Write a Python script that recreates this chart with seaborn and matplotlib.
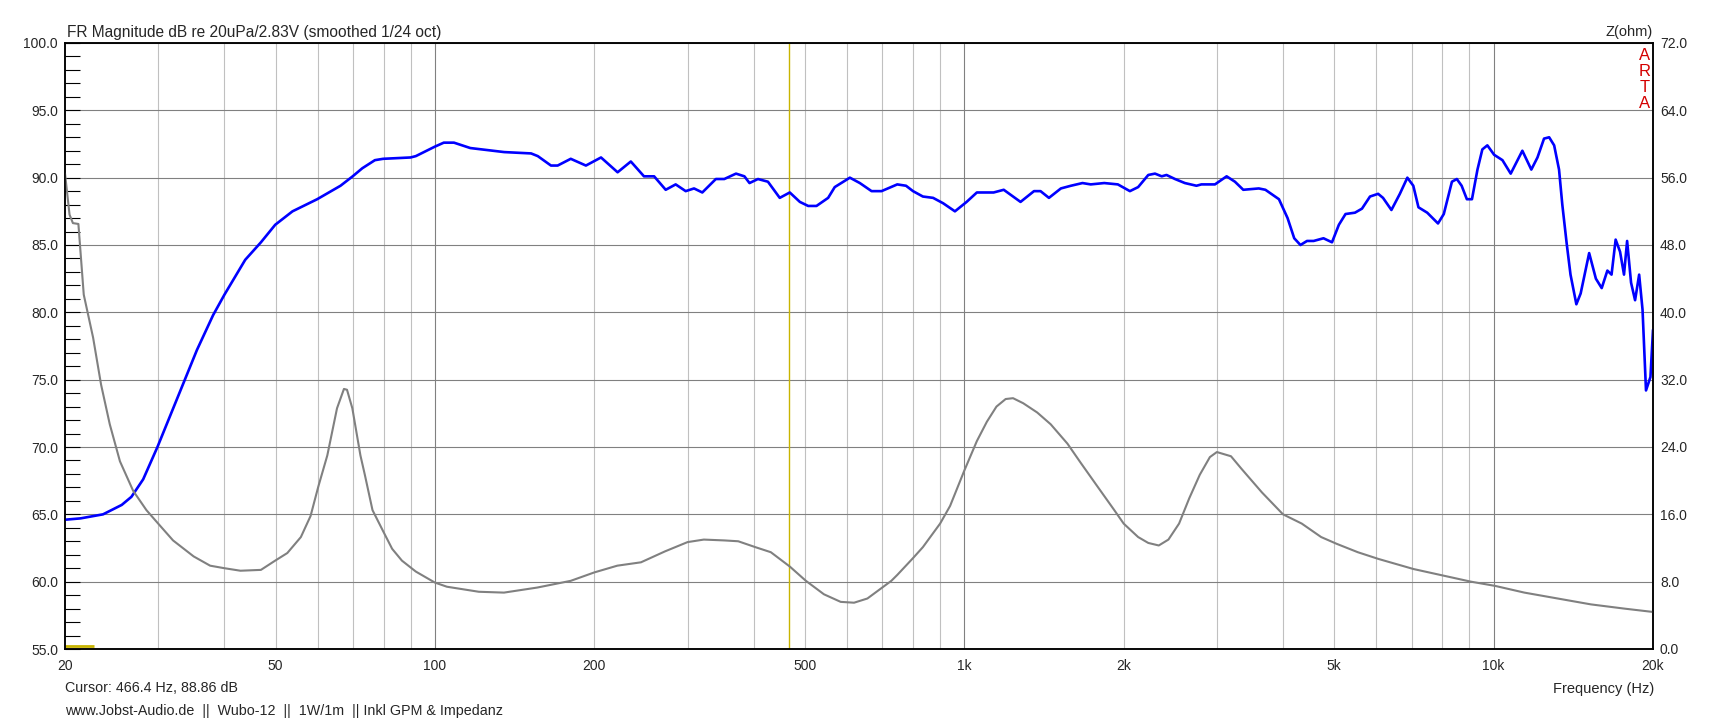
import pandas as pd
import seaborn as sns
import matplotlib
matplotlib.use("Agg")
import matplotlib.pyplot as plt
from matplotlib.ticker import FixedLocator, FuncFormatter, MultipleLocator

# frequency response (blue)
fr_freq = [20, 21.4, 23.6, 25.6, 26.7, 28.1, 29.9, 32.5, 35.5, 38.1, 40, 43.8, 46.9,
           49.9, 53.8, 59.9, 66.3, 69.9, 72.9, 77.0, 79.8, 89.9, 92, 99.9, 103.9, 108.6,
           116.6, 135.1, 151.9, 156.4, 165.6, 170.5, 180.5, 192.8, 205.9, 221.3, 234.4,
           248.2, 259.4, 272.8, 284.9, 297.6, 308.6, 319.9, 339.3, 352.0, 370.4, 384.2,
           392.8, 407.5, 425.6, 448.0, 468.0, 489.0, 507.0, 525.7, 553.0, 569.1, 607.8,
           634.8, 668.0, 697.6, 747, 776, 800, 835, 873, 912, 960, 1010, 1056, 1136,
           1187, 1277, 1354, 1393, 1445, 1522, 1590, 1672, 1733, 1838, 1950, 2055, 2130,
           2226, 2292, 2360, 2410, 2500, 2610, 2745, 2805, 2975, 3130, 3245, 3365, 3600,
           3705, 3930, 4080, 4200, 4315, 4440, 4570, 4770, 4950, 5100, 5250, 5470, 5640,
           5840, 6050, 6180, 6410, 6650, 6870, 7050, 7210, 7490, 7850, 8050, 8340, 8520,
           8700, 8900, 9100, 9320, 9520, 9730, 10020, 10390, 10770, 11330, 11780, 12100,
           12450, 12730, 13010, 13290, 13480, 13740, 13970, 14330, 14600, 15150, 15600,
           16000, 16400, 16700, 17000, 17330, 17630, 17870, 18180, 18500, 18830, 19110,
           19400, 19780, 20000]
fr_db = [64.6, 64.7, 65.0, 65.7, 66.3, 67.6, 70.0, 73.5, 77.2, 79.8, 81.3, 83.9, 85.2,
         86.5, 87.5, 88.4, 89.4, 90.1, 90.7, 91.3, 91.4, 91.5, 91.6, 92.3, 92.6, 92.6,
         92.2, 91.9, 91.8, 91.6, 90.9, 90.9, 91.4, 90.9, 91.5, 90.4, 91.2,
         90.1, 90.1, 89.1, 89.5, 89.0, 89.2, 88.9, 89.9, 89.9, 90.3, 90.1,
         89.6, 89.9, 89.7, 88.5, 88.9, 88.2, 87.9, 87.9, 88.5, 89.3, 90.0,
         89.6, 89.0, 89.0, 89.5, 89.4, 89.0, 88.6, 88.5, 88.1, 87.5, 88.2, 88.9, 88.9,
         89.1, 88.2, 89.0, 89.0, 88.5, 89.2, 89.4, 89.6, 89.5, 89.6, 89.5, 89.0, 89.3,
         90.2, 90.3, 90.1, 90.2, 89.9, 89.6, 89.4, 89.5, 89.5, 90.1, 89.7, 89.1, 89.2,
         89.1, 88.4, 87.0, 85.5, 85.0, 85.3, 85.3, 85.5, 85.2, 86.5, 87.3, 87.4, 87.7,
         88.6, 88.8, 88.5, 87.6, 88.8, 90.0, 89.4, 87.8, 87.4, 86.6, 87.3, 89.7, 89.9,
         89.4, 88.4, 88.4, 90.6, 92.1, 92.4, 91.7, 91.3, 90.3, 92.0, 90.6, 91.5,
         92.9, 93.0, 92.4, 90.6, 88.0, 85.1, 82.8, 80.6, 81.4, 84.4, 82.5,
         81.8, 83.1, 82.8, 85.4, 84.5, 82.8, 85.3, 82.2, 80.9, 82.8, 80.2,
         74.2, 75.2, 78.7]

# impedance (gray), right axis
z_freq = [20, 20.4, 20.7, 21.2, 21.7, 22.6, 23.4, 24.3, 25.4, 26.9, 28.5, 29.9, 32.0,
          35.0, 37.6, 40.0, 42.9, 46.9, 49.9, 52.6, 55.8, 58.2, 60.2, 62.6, 65.3, 67.3,
          68.2, 69.8, 72.3, 73.7, 76.2, 79.8, 83.0, 86.6, 92.0, 99.9, 105.3, 121, 135,
          156, 180.5, 200, 221, 245, 272, 300, 322, 352, 374, 403, 431, 468, 502, 543,
          584, 619, 656, 728, 747, 800, 835, 900, 940, 1000, 1056, 1103, 1150, 1197,
          1236, 1292, 1373, 1456, 1566, 1660, 1785, 1920, 2000, 2130, 2226, 2330, 2430,
          2545, 2660, 2785, 2910, 3000, 3190, 3340, 3650, 4000, 4340, 4722, 5050, 5538,
          6058, 7058, 8062, 9058, 10060, 11430, 13210, 15270, 17650, 20000]
z_ohm = [56.5, 51.6, 50.6, 50.5, 42.1, 37.0, 31.4, 26.7, 22.3, 18.8, 16.5, 15.0, 12.9,
         11.0, 9.9, 9.6, 9.3, 9.4, 10.5, 11.4, 13.3, 15.8, 19.3, 23.0, 28.6, 30.9,
         30.8, 28.6, 23.0, 20.7, 16.5, 14.0, 11.9, 10.5, 9.2, 7.9, 7.4, 6.8, 6.7,
         7.3, 8.1, 9.1, 9.9, 10.3, 11.6, 12.7, 13.0, 12.9, 12.8, 12.1, 11.5, 9.8, 8.1, 6.5,
         5.6, 5.5, 6.0, 8.1, 8.8, 10.8, 12.1, 14.9, 17.0, 21.2, 24.7, 27.0, 28.8, 29.7,
         29.8, 29.2, 28.1, 26.7, 24.4, 22.1, 19.3, 16.5, 14.9, 13.3, 12.6, 12.3, 13.0,
         14.9, 17.9, 20.7, 22.8, 23.4, 22.9, 21.4, 18.6, 16.0, 14.9, 13.3, 12.5, 11.5,
         10.7, 9.5, 8.7, 8.0, 7.5, 6.7, 6.0, 5.3, 4.8, 4.4]

cursor_freq = 466.4
marker_freq = [20, 22.7]
marker_db = [55.25, 55.25]

x_labels = {20: "20", 50: "50", 100: "100", 200: "200", 500: "500",
            1000: "1k", 2000: "2k", 5000: "5k", 10000: "10k", 20000: "20k"}

fr = pd.DataFrame({"freq": fr_freq, "db": fr_db})
z = pd.DataFrame({"freq": z_freq, "ohm": z_ohm})

sns.set_style("white")
plt.rcParams["font.family"] = ["Liberation Sans", "DejaVu Sans"]
TICK_FS = 10
W, H = 1718, 722

fig = plt.figure(figsize=(W / 100, H / 100), dpi=100)
ax = fig.add_axes([65 / W, 73 / H, 1588 / W, 606 / H])
ax.set_xscale("log")
ax.set_xlim(20, 20000)
ax.set_ylim(55, 100)

# grid lines: decades darker than the rest
grid_freqs = [m * d for d in (10, 100, 1000, 10000) for m in range(1, 10) if 20 <= m * d <= 20000]
for f in grid_freqs:
    if f in (20, 20000):
        continue
    is_decade = f in (100, 1000, 10000)
    ax.axvline(f, color="#808080" if is_decade else "#c0c0c0", lw=0.8, zorder=0.5)
ax.yaxis.set_major_locator(MultipleLocator(5))
ax.yaxis.set_minor_locator(MultipleLocator(1))
ax.yaxis.set_major_formatter(FuncFormatter(lambda v, p: f"{v:.1f}"))
ax.grid(True, axis="y", which="major", color="#808080", lw=0.8)
ax.set_axisbelow(True)

ax.xaxis.set_major_locator(FixedLocator(grid_freqs))
ax.xaxis.set_minor_locator(FixedLocator([]))
ax.xaxis.set_major_formatter(FuncFormatter(lambda v, p: x_labels.get(int(round(v)), "")))
ax.tick_params(axis="x", which="major", direction="in", length=10, width=0.8,
               color="black", labelsize=TICK_FS, pad=7)
ax.tick_params(axis="y", which="both", direction="in", length=11, width=0.8,
               color="black", labelsize=TICK_FS, pad=5)

sns.lineplot(data=fr, x="freq", y="db", ax=ax, color="#0000ff", lw=1.9,
             estimator=None, sort=False, zorder=3)
ax.axvline(cursor_freq, color="#c8b400", lw=1.0, zorder=2)
ax.plot(marker_freq, marker_db, color="#c8b400", lw=2.0, zorder=2, solid_capstyle="butt")

ax2 = ax.twinx()
ax2.set_ylim(0, 72)
ax2.yaxis.set_major_locator(MultipleLocator(8))
ax2.yaxis.set_major_formatter(FuncFormatter(lambda v, p: f"{v:.1f}"))
ax2.tick_params(axis="y", length=0, labelsize=TICK_FS, pad=5)
sns.lineplot(data=z, x="freq", y="ohm", ax=ax2, color="#808080", lw=1.5,
             estimator=None, sort=False)
ax2.set_xlim(20, 20000)

for a in (ax, ax2):
    a.set_xlabel("")
    a.set_ylabel("")
    for s in a.spines.values():
        s.set_color("black")
        s.set_linewidth(1.1)

def px(x, y):
    return x / W, 1 - y / H

fig.text(*px(67, 32), "FR Magnitude dB re 20uPa/2.83V (smoothed 1/24 oct)",
         ha="left", va="center", fontsize=11.2)
fig.text(*px(1653, 32), "Z(ohm)", ha="right", va="center", fontsize=10.5)
fig.text(*px(65, 688), "Cursor: 466.4 Hz, 88.86 dB", ha="left", va="center", fontsize=10.3)
fig.text(*px(65, 711), "www.Jobst-Audio.de  ||  Wubo-12  ||  1W/1m  || Inkl GPM & Impedanz",
         ha="left", va="center", fontsize=10.3)
fig.text(*px(1654, 689), "Frequency (Hz)", ha="right", va="center", fontsize=10.5)
for i, ch in enumerate("ARTA"):
    fig.text(*px(1645, 56 + 16 * i), ch, ha="center", va="center",
             fontsize=12, color="#d40000")

fig.savefig("out.png", dpi=100)
